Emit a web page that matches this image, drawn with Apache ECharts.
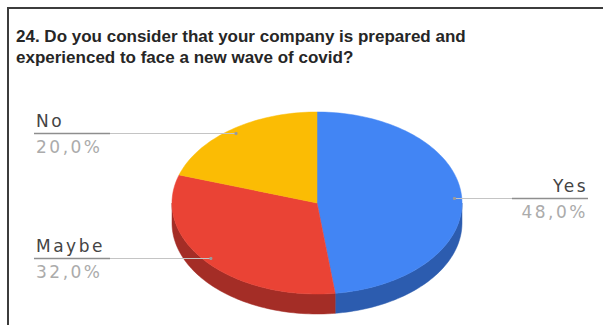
<!DOCTYPE html>
<html>
<head>
<meta charset="utf-8">
<script src="https://cdn.jsdelivr.net/npm/echarts@6/dist/echarts.min.js"></script>
<style>
  html, body { margin: 0; padding: 0; background: #ffffff; }
  #chart { width: 603px; height: 325px; }
</style>
</head>
<body>
<div id="chart"></div>
<script>
// Survey answers and their shares
const categories = ['Yes', 'Maybe', 'No'];
const values = [48, 32, 20];
const titleLines = [
  '24. Do you consider that your company is prepared and',
  'experienced to face a new wave of covid?'
];

// Slice colours: top face and extruded side
const topColors = ['#4285F4', '#EA4335', '#FBBC04'];
const sideColors = ['#2C5CAF', '#A42D26', '#B58600'];

const total = values.reduce((s, v) => s + v, 0);
const starts = [];
values.reduce((acc, v) => { starts.push(acc); return acc + v; }, 0);

// Tilted pie geometry (pixels)
const PIE = { cx: 317, cy: 203, rx: 145, ry: 91, depth: 20 };
const LABEL = { leftX: 34, rightX: 588, block: 76, font: '17px "DejaVu Sans", Verdana, sans-serif' };

// angle in degrees, clockwise from 12 o'clock
function pt(deg, r, dy) {
  const t = deg * Math.PI / 180;
  return [PIE.cx + PIE.rx * r * Math.sin(t), PIE.cy - PIE.ry * r * Math.cos(t) + (dy || 0)];
}
function arc(a0, a1, dy) {
  const n = Math.max(2, Math.ceil(Math.abs(a1 - a0) / 1.5));
  const pts = [];
  for (let k = 0; k <= n; k++) pts.push(pt(a0 + (a1 - a0) * k / n, 1, dy));
  return pts;
}
function pct(v) {
  return (v / total * 100).toFixed(1).replace('.', ',') + '%';
}

function renderSlice(params, api) {
  const i = params.dataIndex;
  const v = api.value(0);
  const a0 = starts[i] / total * 360;
  const a1 = a0 + v / total * 360;
  const children = [];

  // visible outer wall (front half of the ellipse)
  const s0 = Math.max(a0, 90), s1 = Math.min(a1, 270);
  if (s1 > s0) {
    children.push({
      type: 'polygon', z2: 1,
      shape: { points: arc(s0, s1, 0).concat(arc(s1, s0, PIE.depth)) },
      style: { fill: sideColors[i], stroke: sideColors[i], lineWidth: 0.5 }
    });
  }

  // top face
  children.push({
    type: 'polygon', z2: 5,
    shape: { points: [[PIE.cx, PIE.cy]].concat(arc(a0, a1, 0)) },
    style: { fill: topColors[i], stroke: topColors[i], lineWidth: 0.5 }
  });

  // leader line and labels
  const mid = (a0 + a1) / 2;
  const anchor = pt(mid, 0.95, 0);
  const right = anchor[0] > PIE.cx;
  const edge = right ? LABEL.rightX : LABEL.leftX;
  const y = Math.round(anchor[1]) + 0.5;
  children.push({
    type: 'line', z2: 10,
    shape: { x1: anchor[0], y1: y, x2: edge, y2: y },
    style: { stroke: '#c4c4c4', lineWidth: 1 }
  });
  children.push({
    type: 'line', z2: 11,
    shape: { x1: right ? edge - LABEL.block : edge, y1: y, x2: right ? edge : edge + LABEL.block, y2: y },
    style: { stroke: '#8e8e8e', lineWidth: 1.5 }
  });
  children.push({
    type: 'circle', z2: 12,
    shape: { cx: anchor[0], cy: y, r: 1.6 },
    style: { fill: '#9a9a9a' }
  });
  const tx = right ? edge : edge + 2;
  children.push({
    type: 'text', z2: 12, x: tx, y: y - 4,
    style: {
      text: categories[i], font: LABEL.font, fill: '#444444',
      align: right ? 'right' : 'left', verticalAlign: 'bottom'
    }
  });
  children.push({
    type: 'text', z2: 12, x: tx, y: y + 4.5,
    style: {
      text: pct(v), font: LABEL.font, fill: '#ababab',
      align: right ? 'right' : 'left', verticalAlign: 'top'
    }
  });

  return { type: 'group', children: children };
}

const chart = echarts.init(document.getElementById('chart'), null, { renderer: 'svg' });
chart.setOption({
  animation: false,
  backgroundColor: '#ffffff',
  title: {
    text: titleLines.join('\n'),
    left: 16,
    top: 26,
    padding: 0,
    textStyle: {
      fontFamily: 'Arial, "Liberation Sans", sans-serif',
      fontSize: 17,
      fontWeight: 'bold',
      color: '#262626',
      lineHeight: 21
    }
  },
  graphic: [{
    type: 'polyline',
    shape: { points: [[8, 326], [8, 8], [604, 8]] },
    style: { stroke: '#3c3c3c', lineWidth: 2, fill: null }
  }],
  series: [{
    type: 'custom',
    coordinateSystem: 'none',
    renderItem: renderSlice,
    data: values
  }]
});

// slightly open tracking on the slice labels
const labelTexts = new Set(categories.concat(values.map(pct)));
chart.getDom().querySelectorAll('text').forEach(function (t) {
  if (labelTexts.has(t.textContent.trim())) t.style.letterSpacing = '2.5px';
});
</script>
</body>
</html>
